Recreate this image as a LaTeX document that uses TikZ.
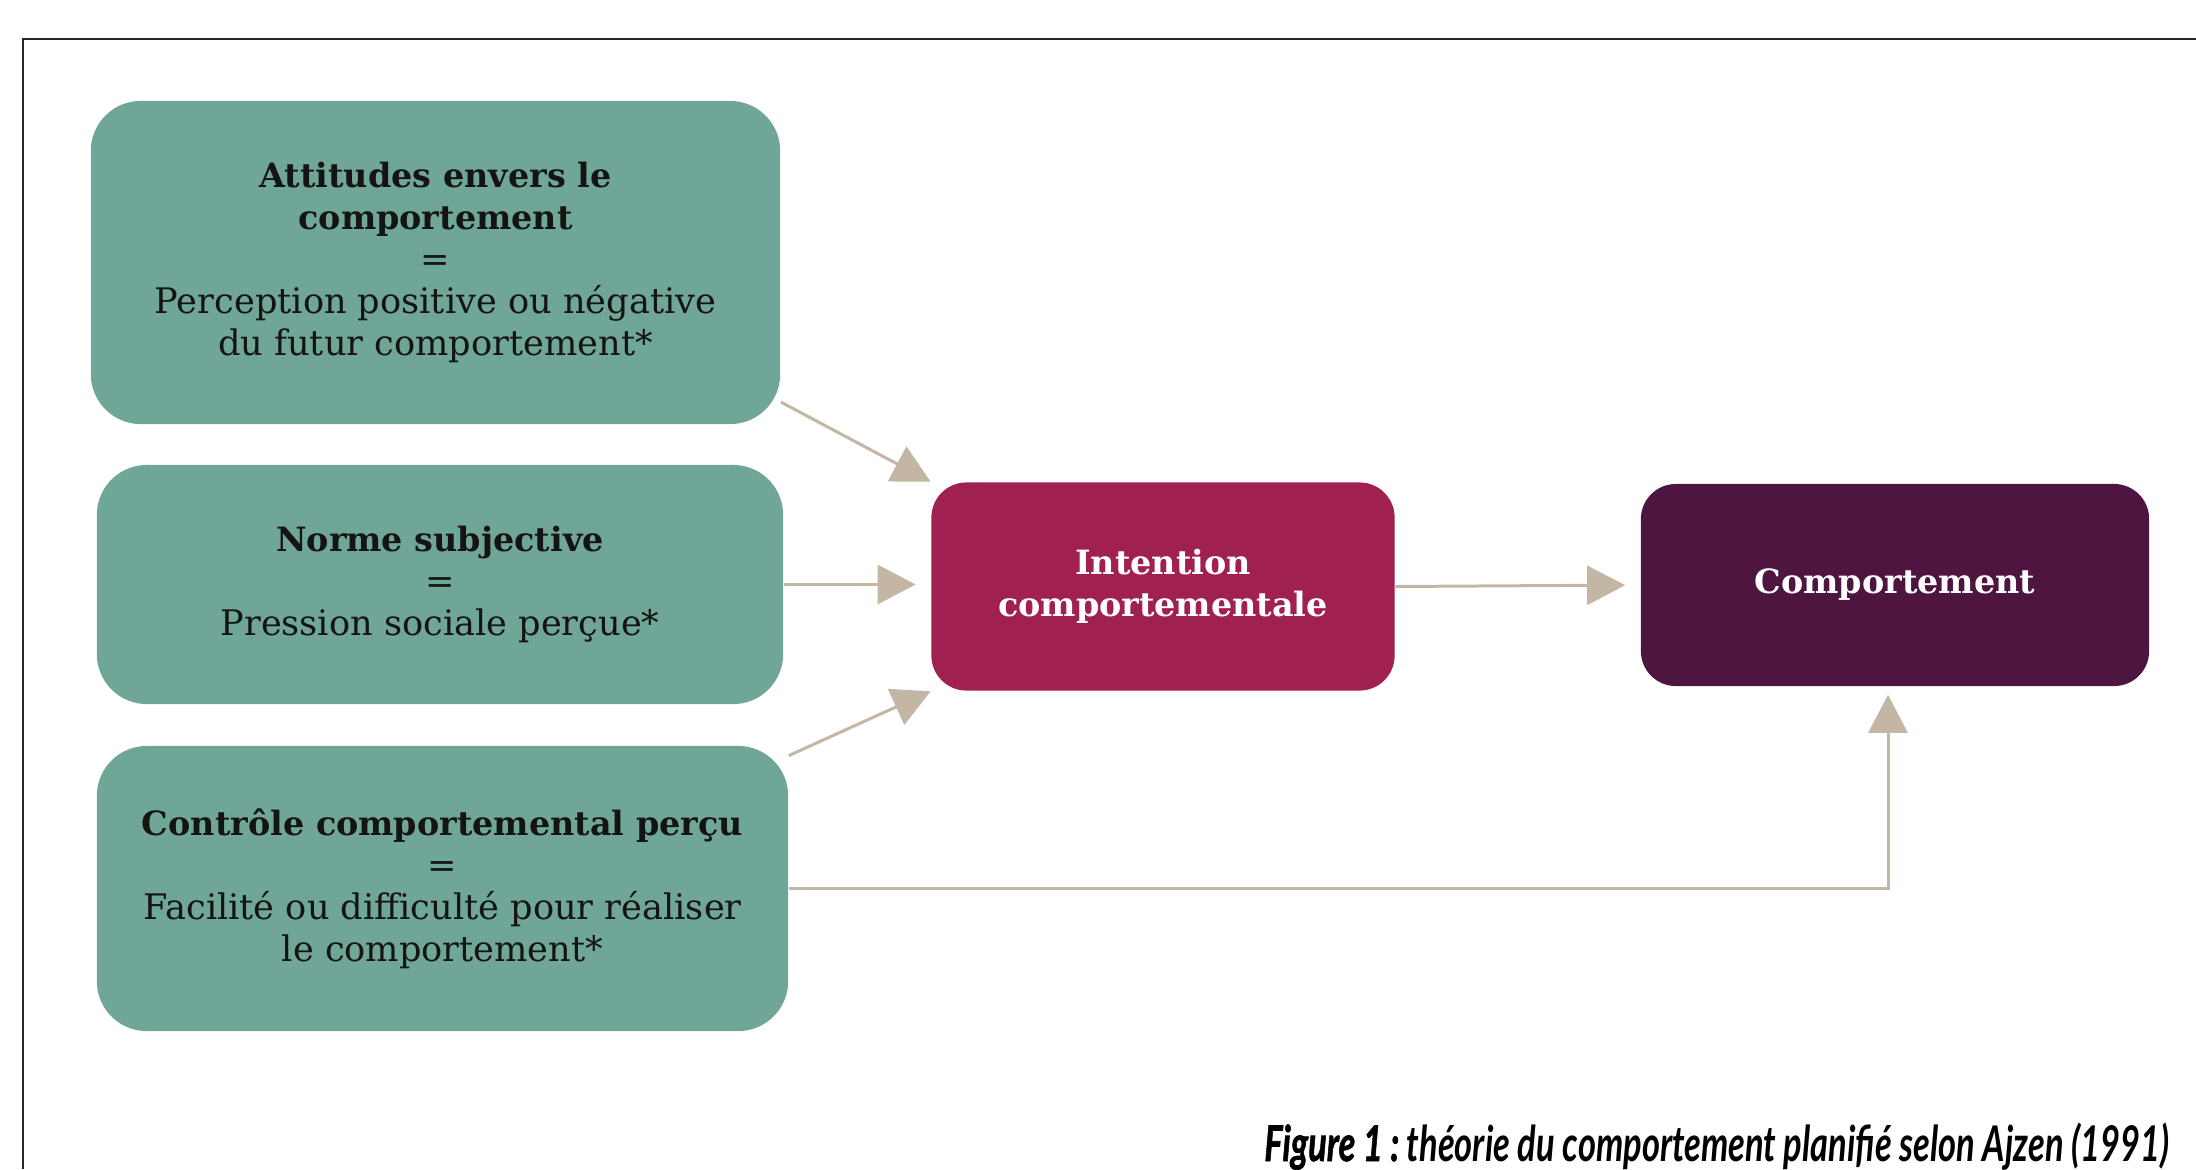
\documentclass[tikz,border=0pt]{standalone}
\usepackage{fontspec}
\setmainfont{DejaVu Serif}
\newfontfamily\legende{Lato}
\newfontfamily\legendeforte[FakeBold=1.5]{Lato}
\usetikzlibrary{arrows.meta}

\definecolor{vert}{RGB}{111,166,151}
\definecolor{framboise}{RGB}{160,32,80}
\definecolor{prune}{RGB}{78,21,64}
\definecolor{sable}{RGB}{195,182,164}

\newcommand\titre[1]{{\fontsize{9.5}{11.95}\selectfont\bfseries #1}}

\begin{document}
\begin{tikzpicture}[x=0.01cm,y=-0.01cm,
  facteur/.style={fill=vert,rounded corners=0.5cm,inner sep=0pt,align=center,
    text=black!92,font=\fontsize{10}{11.95}\selectfont},
  etape/.style={rounded corners=0.35cm,inner sep=0pt,align=center,
    text=white,font=\fontsize{9.5}{11.95}\selectfont\bfseries},
  fleche/.style={draw=sable,line width=0.85pt,-{Triangle[length=0.38cm,width=0.39cm]}}]

\useasboundingbox (0,0) rectangle (2196,1169);
\draw[line width=0.8pt,black!85] (23,1169) -- (23,39) -- (2196,39);

\node[facteur,minimum width=6.89cm,minimum height=3.23cm] (att) at (435.5,262.5)
  {\titre{Attitudes envers le}\\ \titre{comportement}\\ =\\
   Perception positive ou négative\\ du futur comportement*};
\node[facteur,minimum width=6.86cm,minimum height=2.39cm] (norme) at (440,584.5)
  {\titre{Norme subjective}\\ =\\ Pression sociale perçue*};
\node[facteur,minimum width=6.91cm,minimum height=2.85cm] (ctrl) at (442.5,888.5)
  {\titre{Contrôle comportemental perçu}\\ =\\
   Facilité ou difficulté pour réaliser\\ le comportement*};

\node[etape,fill=framboise,minimum width=4.63cm,minimum height=2.08cm] (intent) at (1163,586.5)
  {Intention\\ comportementale};
\node[etape,fill=prune,minimum width=5.08cm,minimum height=2.02cm] (comport) at (1895,585)
  {Comportement};

\draw[fleche] (att.-22) -- (intent.north west);
\draw[fleche,shorten >=0.15cm] (norme.east) -- (norme.east -| intent.west);
\draw[fleche] (ctrl.21) -- (intent.south west);
\draw[fleche,shorten >=0.15cm] (intent.east) -- (comport.west);
\draw[fleche,shorten >=0.08cm] (ctrl.east) -| ([xshift=-0.07cm]comport.south);

\node[anchor=base east,inner sep=0pt,font=\fontsize{14}{16}\selectfont] (legende) at (2170,1161)
  {\scalebox{0.7}[1]{\legendeforte\bfseries\itshape Figure 1 :\ \legende\itshape théorie du comportement planifié selon Ajzen (1991)}};
\end{tikzpicture}
\end{document}
